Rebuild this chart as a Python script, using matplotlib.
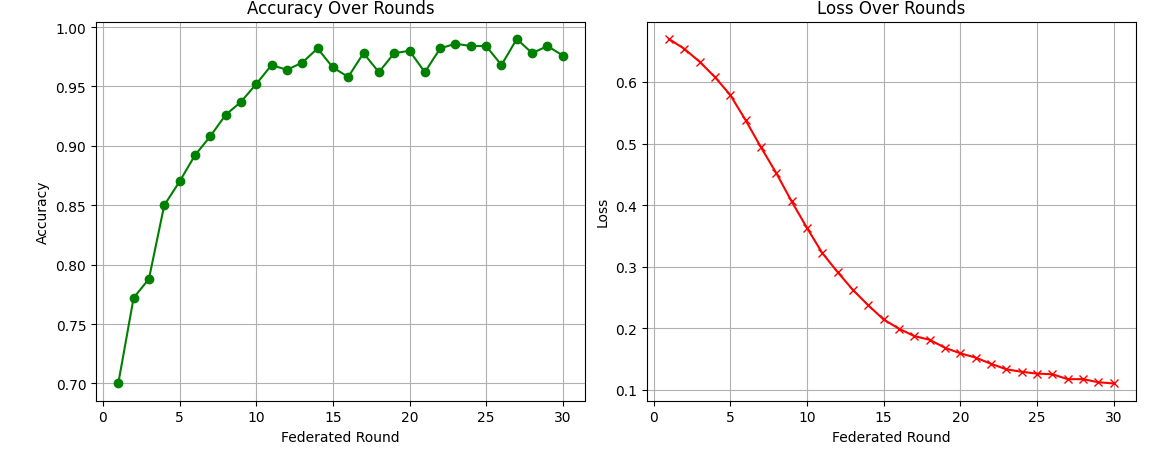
import numpy as np
import matplotlib
matplotlib.use("Agg")
import matplotlib.pyplot as plt

rounds = list(range(1, 31))
accuracy = [0.700, 0.772, 0.788, 0.850, 0.870, 0.892, 0.908, 0.926, 0.937, 0.952,
            0.968, 0.964, 0.970, 0.982, 0.966, 0.958, 0.978, 0.962, 0.978, 0.980,
            0.962, 0.982, 0.986, 0.984, 0.984, 0.968, 0.990, 0.978, 0.984, 0.976]
loss = [0.670, 0.654, 0.633, 0.608, 0.579, 0.538, 0.494, 0.452, 0.406, 0.363,
        0.322, 0.291, 0.262, 0.237, 0.214, 0.199, 0.187, 0.181, 0.168, 0.159,
        0.152, 0.142, 0.133, 0.129, 0.126, 0.125, 0.117, 0.117, 0.112, 0.110]

fig = plt.figure(figsize=(11.67, 4.52), dpi=100)
ax1 = fig.add_axes([0.0823, 0.1113, 0.4190, 0.8385])
ax2 = fig.add_axes([0.5541, 0.1113, 0.4193, 0.8385])

# Accuracy
ax1.plot(rounds, accuracy, marker='o', color='green')
ax1.set_title("Accuracy Over Rounds")
ax1.set_xlabel("Federated Round")
ax1.set_ylabel("Accuracy")
ax1.grid(True)

# Loss
ax2.plot(rounds, loss, marker='x', color='red')
ax2.set_title("Loss Over Rounds")
ax2.set_xlabel("Federated Round")
ax2.set_ylabel("Loss")
ax2.grid(True)

fig.savefig("out.png")
